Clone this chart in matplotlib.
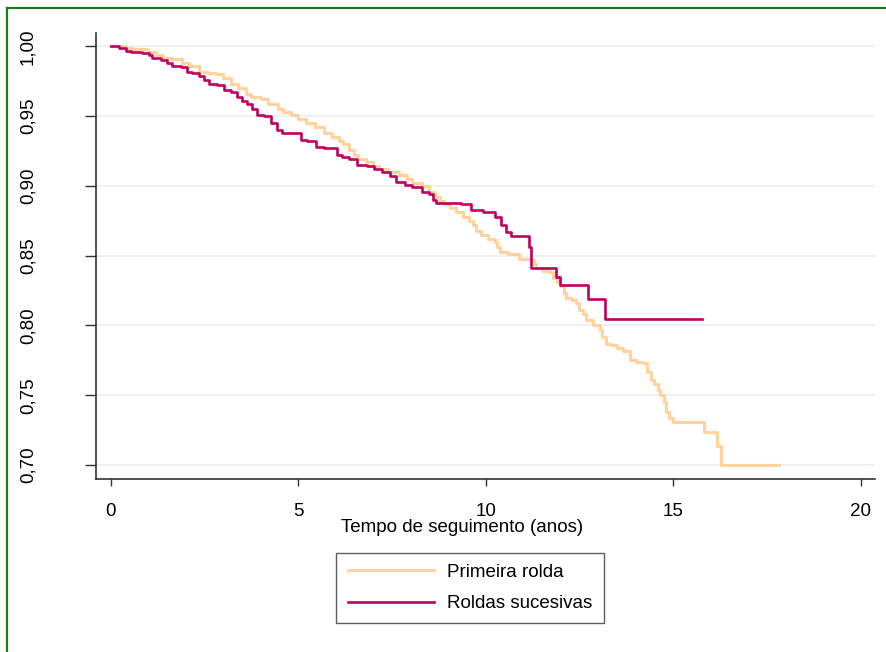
import matplotlib
matplotlib.use("Agg")
from matplotlib import pyplot as plt
from matplotlib.lines import Line2D

plt.rcParams['font.family'] = ['Liberation Sans', 'DejaVu Sans']

# Kaplan-Meier curves (time in years, survival)
prim_t = [0, 0.4, 0.6, 1.0, 1.2, 1.4, 1.6, 1.9, 2.1, 2.35, 2.6, 2.8, 3.0, 3.2,
          3.4, 3.6, 3.75, 4.0, 4.2, 4.45, 4.6, 4.8, 5.0, 5.2, 5.45, 5.7, 5.9,
          6.08, 6.2, 6.35, 6.5, 6.6, 6.8, 7.0, 7.16, 7.4, 7.7, 7.9, 8.04, 8.3,
          8.5, 8.65, 8.77, 8.9, 9.05, 9.2, 9.4, 9.55, 9.65, 9.75, 9.87, 10.05,
          10.24, 10.3, 10.37, 10.6, 10.9, 11.18, 11.3, 11.35, 11.5, 11.7, 11.8,
          11.9, 11.98, 12.1, 12.15, 12.3, 12.4, 12.5, 12.6, 12.68, 12.85, 13.05,
          13.1, 13.2, 13.35, 13.5, 13.65, 13.86, 14.0, 14.2, 14.3, 14.4, 14.5,
          14.6, 14.66, 14.75, 14.82, 14.88, 14.99, 15.81, 16.16, 16.27, 17.82]
prim_s = [1.0, 0.999, 0.998, 0.996, 0.994, 0.992, 0.991, 0.988, 0.986, 0.982,
          0.981, 0.980, 0.977, 0.973, 0.970, 0.966, 0.964, 0.962, 0.959, 0.955,
          0.953, 0.951, 0.948, 0.945, 0.942, 0.938, 0.935, 0.932, 0.930, 0.926,
          0.922, 0.919, 0.917, 0.914, 0.912, 0.910, 0.908, 0.905, 0.902, 0.900,
          0.896, 0.892, 0.889, 0.887, 0.884, 0.881, 0.878, 0.875, 0.872, 0.868,
          0.865, 0.862, 0.860, 0.856, 0.853, 0.851, 0.848, 0.847, 0.844, 0.841,
          0.839, 0.838, 0.834, 0.831, 0.828, 0.823, 0.820, 0.818, 0.816, 0.811,
          0.808, 0.804, 0.800, 0.797, 0.792, 0.787, 0.786, 0.784, 0.782, 0.775,
          0.774, 0.773, 0.767, 0.761, 0.758, 0.754, 0.750, 0.745, 0.738, 0.734,
          0.731, 0.724, 0.714, 0.700, 0.700]

suc_t = [0, 0.22, 0.40, 0.53, 0.84, 1.02, 1.11, 1.33, 1.51, 1.64, 1.87, 2.04,
         2.18, 2.36, 2.49, 2.62, 2.84, 3.02, 3.2, 3.38, 3.51, 3.64, 3.78, 3.91,
         4.09, 4.27, 4.44, 4.58, 5.07, 5.24, 5.47, 5.69, 6.04, 6.18, 6.36, 6.58,
         6.84, 7.02, 7.24, 7.45, 7.6, 7.85, 8.04, 8.3, 8.5, 8.6, 8.67, 9.33,
         9.6, 9.92, 10.24, 10.4, 10.54, 10.67, 11.15, 11.2, 11.88, 11.98, 12.72,
         13.19, 15.78]
suc_s = [1.0, 0.999, 0.997, 0.996, 0.995, 0.994, 0.992, 0.990, 0.988, 0.986,
         0.985, 0.982, 0.981, 0.979, 0.976, 0.973, 0.972, 0.969, 0.967, 0.964,
         0.961, 0.959, 0.955, 0.951, 0.950, 0.945, 0.940, 0.938, 0.933, 0.932,
         0.928, 0.927, 0.922, 0.921, 0.919, 0.915, 0.914, 0.912, 0.910, 0.907,
         0.903, 0.901, 0.899, 0.896, 0.894, 0.890, 0.888, 0.887, 0.883, 0.881,
         0.878, 0.872, 0.867, 0.864, 0.856, 0.841, 0.835, 0.829, 0.819, 0.805,
         0.805]

labels = ['Primeira rolda', 'Roldas sucesivas']
colors = ['#FFD39B', '#C0005F']

xticks = [0, 5, 10, 15, 20]
yticks = [0.70, 0.75, 0.80, 0.85, 0.90, 0.95, 1.00]

fig = plt.figure(figsize=(8.86, 6.52), dpi=100)
ax = fig.add_axes([96/886, 1 - 479/652, (875 - 96)/886, (479 - 33)/652])

for y in yticks:
    ax.axhline(y, color='#EAF1F3', lw=1.3, zorder=0)

ax.step(prim_t, prim_s, where='post', color=colors[0], lw=2.2, zorder=2)
ax.step(suc_t, suc_s, where='post', color=colors[1], lw=1.9, zorder=3)

ax.set_xlim(-0.392, 20.38)
ax.set_ylim(0.690, 1.0096)
ax.set_xticks(xticks)
ax.set_yticks(yticks)
ax.set_xticklabels([str(x) for x in xticks], fontsize=13.5)
ax.set_yticklabels([('%.2f' % y).replace('.', ',') for y in yticks],
                   fontsize=13.5, rotation=90, va='center')
ax.tick_params(axis='x', direction='out', length=5, width=1, color='#333333', pad=12)
ax.tick_params(axis='y', direction='out', length=8, width=1, color='#333333', pad=35)
for s in ['top', 'right']:
    ax.spines[s].set_visible(False)
for s in ['left', 'bottom']:
    ax.spines[s].set_color('#222222')
    ax.spines[s].set_linewidth(1.1)
fig.text(462.5/886, 1 - 528/652, 'Tempo de seguimento (anos)', fontsize=13.5,
         ha='center', va='center')

handles = [Line2D([], [], color=colors[0], lw=2.2),
           Line2D([], [], color=colors[1], lw=1.9)]
leg = fig.legend(handles, labels, loc='center', bbox_to_anchor=(470/886, 1 - 588/652),
                 fontsize=13.5, frameon=True, fancybox=False, handlelength=4.6,
                 handletextpad=0.7, borderpad=0.6, labelspacing=0.75)
leg.get_frame().set_edgecolor('#333333')
leg.get_frame().set_linewidth(1.0)

# green frame on top and left edge
fig.add_artist(Line2D([7/886, 1], [1 - 8/652, 1 - 8/652], transform=fig.transFigure,
                      color='#1E7B1E', lw=1.6))
fig.add_artist(Line2D([7/886, 7/886], [0, 1 - 8/652], transform=fig.transFigure,
                      color='#1E7B1E', lw=1.6))

fig.savefig('out.png', dpi=100)
